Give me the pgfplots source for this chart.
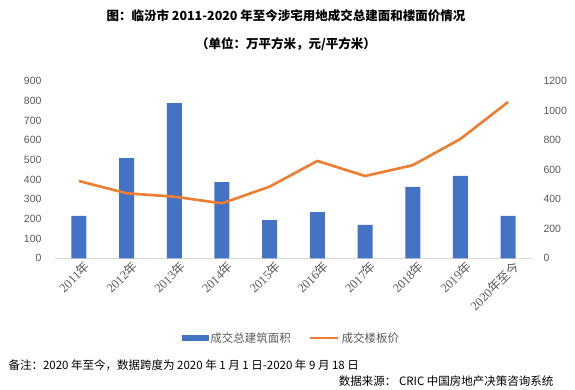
\documentclass[border=0pt]{standalone}
\usepackage{fontspec}
\setmainfont{Noto Sans CJK SC}
\newfontfamily\arial{Liberation Sans}
\newfontfamily\tnr{Liberation Serif}
\newfontfamily\cjk{Noto Sans CJK SC}
\usepackage{pgfplots}
\pgfplotsset{compat=1.18}
\definecolor{barblue}{HTML}{4472C4}
\definecolor{lineorange}{HTML}{ED7D31}
\definecolor{tickgray}{HTML}{595959}
\definecolor{axisgray}{HTML}{D9D9D9}
\begin{document}
\begin{tikzpicture}[x=1pt,y=1pt]
\useasboundingbox (0,0) rectangle (575,390);
\node[font=\fontsize{12.5}{14}\selectfont\bfseries] at (286,374) {图：临汾市 2011-2020 年至今涉宅用地成交总建面和楼面价情况};
\node[font=\fontsize{12.5}{14}\selectfont\bfseries] at (286,346) {（单位：万平方米，元/平方米）};
\begin{axis}[
  at={(55pt,131.7pt)}, anchor=south west,
  scale only axis, width=477pt, height=177.3pt,
  xmin=-0.5, xmax=9.5, ymin=0, ymax=900,
  ytick={0,100,...,900},
  xtick={0,...,9},
  xticklabels={{\tnr 2011}年,{\tnr 2012}年,{\tnr 2013}年,{\tnr 2014}年,{\tnr 2015}年,{\tnr 2016}年,{\tnr 2017}年,{\tnr 2018}年,{\tnr 2019}年,{\tnr 2020}年至今},
  x tick label style={rotate=45, anchor=north east, font=\fontsize{12.5}{14}\selectfont, text=tickgray, inner sep=1pt, yshift=-3pt, xshift=3pt},
  y tick label style={font=\fontsize{10.5}{12}\selectfont\arial, text=tickgray, xshift=-10pt},
  /pgf/number format/assume math mode=true,
  /pgf/number format/set thousands separator={},
  axis line style={draw=none},
  axis x line*=bottom, axis y line*=left,
  x axis line style={draw=axisgray, line width=0.8pt},
  major tick length=0pt,
  clip=false,
]
\addplot[ybar, bar width=15pt, fill=barblue, draw=none] coordinates {
(0,215) (1,509) (2,788) (3,387) (4,194) (5,235) (6,170) (7,362) (8,418) (9,215)};
\end{axis}
\begin{axis}[
  at={(55pt,131.7pt)}, anchor=south west,
  scale only axis, width=477pt, height=177.3pt,
  xmin=-0.5, xmax=9.5, ymin=0, ymax=1200,
  ytick={0,200,...,1200},
  xtick=\empty,
  axis x line=none,
  axis y line*=right,
  y axis line style={draw=none},
  y tick label style={font=\fontsize{10.5}{12}\selectfont\arial, text=tickgray, xshift=8pt},
  /pgf/number format/assume math mode=true,
  /pgf/number format/set thousands separator={},
  major tick length=0pt,
  clip=false,
  legend columns=2,
  legend style={at={(0.496,-0.4495)}, anchor=center, draw=none, fill=none,
    font=\fontsize{11.5}{13}\selectfont, text=tickgray,
    /tikz/every even column/.append style={column sep=16pt},
    inner sep=0pt},
]
\addlegendimage{legend image code/.code={\fill[barblue] (0pt,-2.5pt) rectangle (26pt,2.5pt);}}
\addlegendentry{成交总建筑面积}
\addplot[lineorange, line width=2.6pt, line join=round,
  legend image code/.code={\draw[lineorange, line width=2.6pt] (0pt,0pt) -- (28pt,0pt);}] coordinates {
(0,523) (1,440) (2,417) (3,372) (4,485) (5,659) (6,557) (7,630) (8,808) (9,1058)};
\addlegendentry{成交楼板价}
\end{axis}
\node[anchor=west, font=\fontsize{11.5}{13}\selectfont] at (5,25) {备注：2020 年至今，数据跨度为 2020 年 1 月 1 日-2020 年 9 月 18 日};
\node[anchor=east, font=\fontsize{11.5}{13}\selectfont] at (557,9) {数据来源： CRIC 中国房地产决策咨询系统};
\end{tikzpicture}
\end{document}
